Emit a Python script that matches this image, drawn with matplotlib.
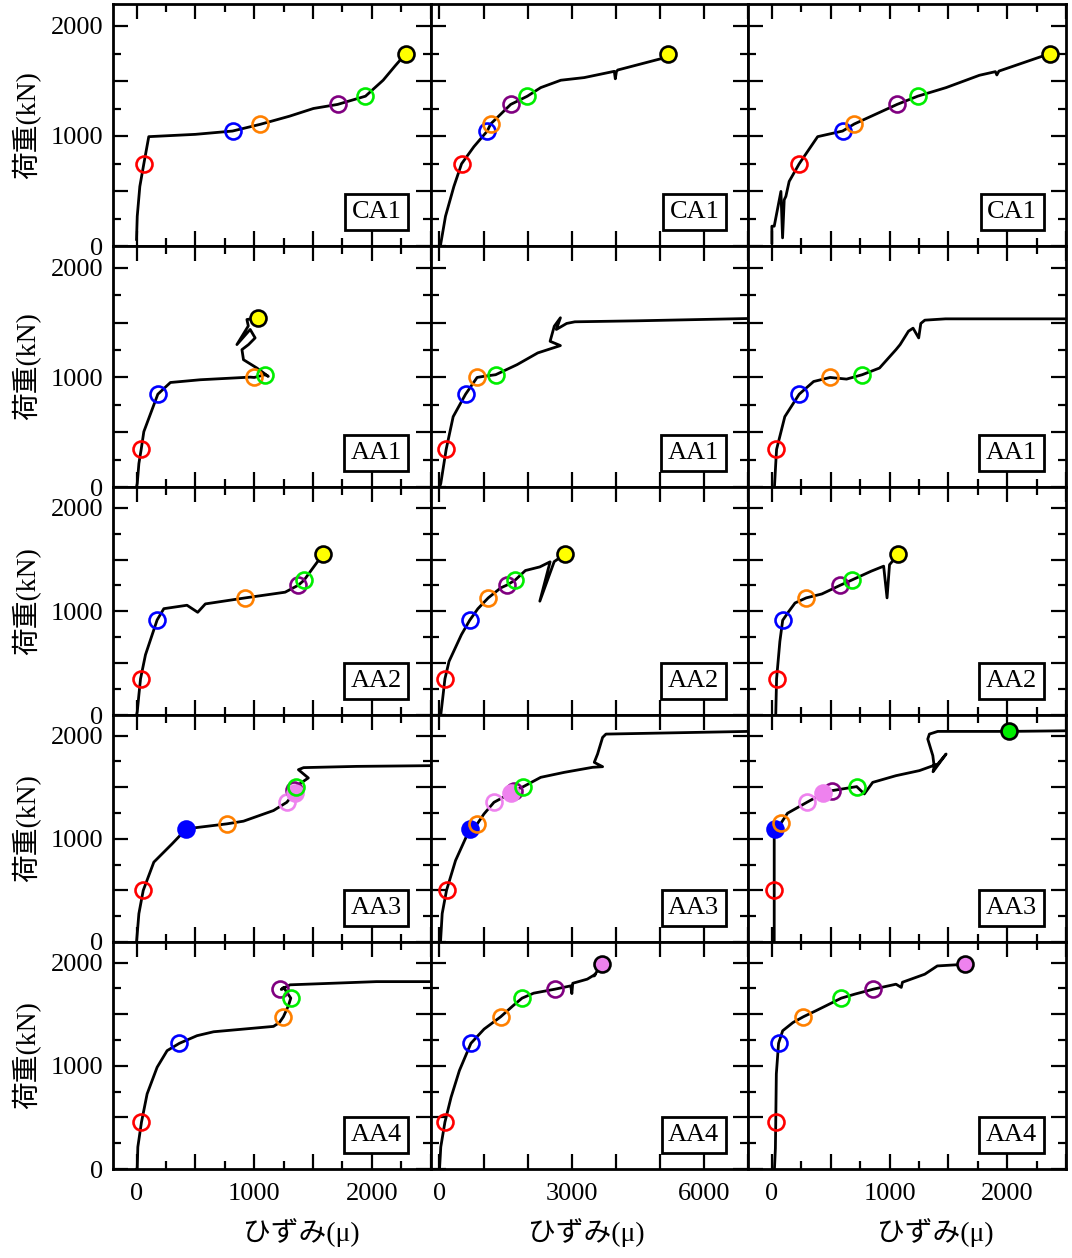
import matplotlib
matplotlib.use("Agg")
import matplotlib.pyplot as plt
from matplotlib.ticker import MultipleLocator, FuncFormatter

plt.rcParams['font.family'] = ['Liberation Serif', 'Noto Sans CJK JP']
plt.rcParams['mathtext.fontset'] = 'stix'

# ---- data (strain in micro, load in kN) ----
row_names = ['CA1', 'AA1', 'AA2', 'AA3', 'AA4']

ca1_l_x = [0, 6, 28, 62, 104, 500, 816, 1051, 1300, 1503, 1709, 1946, 2096, 2200, 2288]
ca1_l_y = [60, 270, 541, 747, 994, 1015, 1045, 1106, 1180, 1250, 1287, 1362, 1507, 1640, 1748]
ca1_l_pts = [('r', 62, 747), ('b', 816, 1045), ('o', 1051, 1106), ('p', 1709, 1287),
             ('g', 1946, 1362), ('yk', 2288, 1748)]

ca1_m_x = [20, 136, 326, 500, 780, 1083, 1159, 1614, 1992, 2295, 2750, 3280, 3962, 3985, 4010, 4040, 5023, 5174]
ca1_m_y = [0, 270, 541, 747, 903, 1045, 1109, 1287, 1362, 1440, 1507, 1531, 1588, 1520, 1585, 1600, 1703, 1748]
ca1_m_pts = [('r', 500, 747), ('b', 1083, 1045), ('o', 1159, 1109), ('p', 1614, 1287),
             ('g', 1992, 1362), ('yk', 5174, 1748)]

ca1_r_x = [0, 0, 20, 77, 91, 105, 119, 147, 232, 389, 601, 700, 1064, 1240, 1481, 1764, 1900, 1912, 1930, 2360]
ca1_r_y = [30, 180, 180, 496, 74, 420, 451, 587, 747, 994, 1045, 1109, 1287, 1362, 1440, 1552, 1585, 1555, 1590, 1748]
ca1_r_pts = [('r', 232, 747), ('b', 601, 1045), ('o', 700, 1109), ('p', 1064, 1287),
             ('g', 1240, 1362), ('yk', 2360, 1748)]

aa1_l_x = [0, 6, 20, 40, 62, 181, 288, 542, 966, 1000, 1093, 1120, 1023, 909, 896, 952, 1008, 966, 853, 950, 938, 1036]
aa1_l_y = [0, 31, 214, 346, 505, 847, 954, 979, 1003, 1000, 1025, 1010, 1086, 1162, 1254, 1300, 1361, 1438, 1300, 1470, 1529, 1545]
aa1_l_pts = [('r', 40, 346), ('b', 181, 847), ('o', 1000, 1000), ('g', 1093, 1025), ('yk', 1036, 1545)]

aa1_m_x = [0, 29, 151, 310, 591, 852, 1000, 1273, 1759, 2227, 2741, 2507, 2602, 2741, 2648, 2882, 3068, 4472, 7000]
aa1_m_y = [0, 31, 343, 642, 847, 1000, 1010, 1025, 1117, 1224, 1291, 1330, 1468, 1545, 1438, 1493, 1508, 1517, 1538]
aa1_m_pts = [('r', 151, 343), ('b', 591, 847), ('o', 852, 1000), ('g', 1273, 1025)]

aa1_r_x = [22, 33, 40, 110, 232, 355, 495, 635, 768, 915, 1055, 1090, 1161, 1200, 1248, 1266, 1300, 1476, 2500]
aa1_r_y = [0, 214, 343, 642, 847, 963, 1000, 985, 1025, 1086, 1254, 1300, 1422, 1450, 1361, 1493, 1523, 1535, 1535]
aa1_r_pts = [('r', 38, 343), ('b', 232, 847), ('o', 495, 1000), ('g', 768, 1025)]

aa2_l_x = [0, 6, 20, 34, 76, 175, 232, 429, 520, 585, 924, 1263, 1376, 1424, 1500, 1588]
aa2_l_y = [0, 30, 194, 349, 581, 917, 1026, 1059, 991, 1072, 1130, 1185, 1253, 1301, 1420, 1556]
aa2_l_pts = [('r', 34, 349), ('b', 175, 917), ('o', 924, 1130), ('p', 1376, 1253),
             ('g', 1424, 1301), ('yk', 1588, 1556)]

aa2_m_x = [29, 70, 123, 216, 497, 684, 871, 1105, 1386, 1525, 1713, 1947, 2274, 2507, 2274, 2600, 2834]
aa2_m_y = [0, 150, 349, 517, 775, 914, 1026, 1130, 1226, 1253, 1301, 1394, 1429, 1478, 1098, 1480, 1549]
aa2_m_pts = [('r', 123, 349), ('b', 684, 914), ('o', 1105, 1130), ('p', 1525, 1253),
             ('g', 1713, 1301), ('yk', 2834, 1549)]

aa2_r_x = [33, 36, 40, 68, 92, 145, 197, 292, 425, 583, 677, 845, 950, 979, 1000, 1073]
aa2_r_y = [0, 150, 349, 710, 914, 1001, 1081, 1130, 1168, 1253, 1301, 1388, 1436, 1130, 1450, 1549]
aa2_r_pts = [('r', 40, 349), ('b', 92, 914), ('o', 292, 1130), ('p', 583, 1253),
             ('g', 677, 1301), ('yk', 1073, 1549)]

aa3_l_x = [0, 6, 20, 57, 147, 302, 424, 768, 909, 1164, 1277, 1347, 1353, 1460, 1376, 1420, 1870, 2500]
aa3_l_y = [0, 81, 275, 500, 774, 951, 1097, 1145, 1171, 1274, 1354, 1451, 1506, 1590, 1670, 1690, 1702, 1709]
aa3_l_pts = [('r', 57, 500), ('bf', 424, 1097), ('o', 768, 1145), ('v', 1277, 1354),
             ('p', 1335, 1475), ('vf', 1345, 1445), ('g', 1353, 1506)]

aa3_m_x = [23, 61, 159, 364, 689, 856, 1008, 1235, 1614, 1689, 1902, 2295, 2826, 3470, 3697, 3508, 3583, 3697, 3773, 7000]
aa3_m_y = [0, 275, 500, 790, 1097, 1145, 1241, 1354, 1441, 1467, 1506, 1596, 1644, 1693, 1699, 1741, 1822, 1983, 2015, 2041]
aa3_m_pts = [('r', 159, 500), ('bf', 689, 1097), ('o', 856, 1145), ('v', 1235, 1354),
             ('p', 1689, 1467), ('vf', 1614, 1441), ('g', 1902, 1506)]

aa3_r_x = [20, 20, 20, 28, 77, 133, 298, 437, 511, 721, 786, 857, 1055, 1254, 1410, 1481, 1370, 1380, 1368, 1325, 1339, 1410, 2014, 2500]
aa3_r_y = [0, 500, 1015, 1097, 1151, 1248, 1354, 1441, 1467, 1506, 1435, 1547, 1612, 1661, 1725, 1822, 1650, 1700, 1806, 1967, 2015, 2041, 2041, 2047]
aa3_r_pts = [('r', 20, 500), ('bf', 28, 1097), ('o', 77, 1151), ('v', 298, 1354),
             ('p', 511, 1467), ('vf', 437, 1441), ('g', 721, 1506), ('gk', 2014, 2041)]

aa4_l_x = [0, 6, 11, 42, 90, 175, 260, 364, 514, 655, 1164, 1215, 1248, 1290, 1311, 1250, 1230, 1305, 2040, 2500]
aa4_l_y = [0, 4, 213, 454, 728, 986, 1147, 1218, 1292, 1330, 1382, 1420, 1475, 1580, 1656, 1760, 1740, 1785, 1816, 1816]
aa4_l_pts = [('r', 42, 454), ('b', 364, 1218), ('o', 1248, 1475), ('p', 1220, 1743), ('g', 1311, 1656)]

aa4_m_x = [1, 29, 123, 263, 451, 712, 1011, 1386, 1666, 1872, 2134, 2620, 2975, 3000, 3020, 3350, 3536, 3500, 3677]
aa4_m_y = [0, 213, 454, 696, 954, 1218, 1356, 1475, 1582, 1656, 1704, 1743, 1775, 1700, 1800, 1840, 1888, 1870, 1984]
aa4_m_pts = [('r', 123, 454), ('b', 712, 1218), ('o', 1386, 1475), ('g', 1872, 1656),
             ('p', 2620, 1743), ('vk', 3677, 1984)]

aa4_r_x = [22, 30, 33, 38, 57, 92, 180, 267, 373, 460, 590, 706, 863, 1055, 1100, 1110, 1300, 1406, 1640]
aa4_r_y = [0, 200, 454, 922, 1218, 1340, 1420, 1475, 1533, 1582, 1656, 1695, 1743, 1791, 1760, 1810, 1888, 1968, 1984]
aa4_r_pts = [('r', 33, 454), ('b', 57, 1218), ('o', 267, 1475), ('g', 590, 1656),
             ('p', 863, 1743), ('vk', 1640, 1984)]

panels = [
    [(ca1_l_x, ca1_l_y, ca1_l_pts), (ca1_m_x, ca1_m_y, ca1_m_pts), (ca1_r_x, ca1_r_y, ca1_r_pts)],
    [(aa1_l_x, aa1_l_y, aa1_l_pts), (aa1_m_x, aa1_m_y, aa1_m_pts), (aa1_r_x, aa1_r_y, aa1_r_pts)],
    [(aa2_l_x, aa2_l_y, aa2_l_pts), (aa2_m_x, aa2_m_y, aa2_m_pts), (aa2_r_x, aa2_r_y, aa2_r_pts)],
    [(aa3_l_x, aa3_l_y, aa3_l_pts), (aa3_m_x, aa3_m_y, aa3_m_pts), (aa3_r_x, aa3_r_y, aa3_r_pts)],
    [(aa4_l_x, aa4_l_y, aa4_l_pts), (aa4_m_x, aa4_m_y, aa4_m_pts), (aa4_r_x, aa4_r_y, aa4_r_pts)],
]

# marker styles: (face, edge)
styles = {
    'r': ('none', '#ff0000'), 'b': ('none', '#0000ff'), 'o': ('none', '#ff8000'),
    'p': ('none', '#800080'), 'g': ('none', '#00ee00'), 'v': ('none', '#ee82ee'),
    'bf': ('#0000ff', '#0000ff'), 'vf': ('#ee82ee', '#ee82ee'),
    'yk': ('#ffff00', 'black'), 'gk': ('#00ee00', 'black'), 'vk': ('#ee82ee', 'black'),
}

col_xlim = [(-200, 2500), (-200, 7000), (-200, 2500)]
xlabel_pos = [0.593, 0.49, 0.588]

fig = plt.figure(figsize=(10.72, 12.58), dpi=100)
gs = fig.add_gridspec(5, 3, left=113/1072, right=1066/1072, top=1-4/1258, bottom=1-1169/1258,
                      hspace=0, wspace=0, height_ratios=[242, 241, 228, 227, 227])

lab_fmt = FuncFormatter(lambda v, p: f"{int(round(v))}" if abs(v) % 1000 < 1e-6 else "")
mid_fmt = FuncFormatter(lambda v, p: f"{int(round(v))}" if abs(v) % 3000 < 1e-6 else "")

for i in range(5):
    for j in range(3):
        ax = fig.add_subplot(gs[i, j])
        xs, ys, pts = panels[i][j]
        ax.plot(xs, ys, color='black', lw=2.0, zorder=2)
        for key, px, py in pts:
            fc, ec = styles[key]
            ax.plot(px, py, 'o', ms=11.5, mfc=fc, mec=ec, mew=1.9, zorder=3, clip_on=False)

        ax.set_xlim(*col_xlim[j])
        ax.set_ylim(0, 2200)
        if j == 1:
            ax.xaxis.set_major_locator(MultipleLocator(1000))
            ax.xaxis.set_major_formatter(mid_fmt)
        else:
            ax.xaxis.set_major_locator(MultipleLocator(500))
            ax.xaxis.set_minor_locator(MultipleLocator(250))
            ax.xaxis.set_major_formatter(lab_fmt)
        ax.yaxis.set_major_locator(MultipleLocator(500))
        ax.yaxis.set_minor_locator(MultipleLocator(250))
        ax.yaxis.set_major_formatter(lab_fmt)

        ax.tick_params(which='both', direction='in', top=True, right=True, width=1.6, labelsize=19)
        ax.tick_params(which='major', length=10.5)
        ax.tick_params(which='minor', length=5.5)
        ax.tick_params(axis='x', pad=10)
        ax.tick_params(axis='y', pad=7)
        for s in ax.spines.values():
            s.set_linewidth(2.0)

        if j != 0:
            ax.tick_params(axis='y', labelleft=False)
        else:
            ax.set_ylabel('荷重(kN)', fontsize=20)
            ax.yaxis.set_label_coords(-0.225, 0.5)
        if i != 4:
            ax.tick_params(axis='x', labelbottom=False)
        else:
            ax.set_xlabel('ひずみ(μ)', fontsize=20)
            ax.xaxis.set_label_coords(xlabel_pos[j], -0.215)

        ax.annotate(row_names[i], xy=(1, 0), xycoords='axes fraction',
                    xytext=(-29, 23), textcoords='offset pixels', ha='right', va='bottom',
                    fontsize=19, zorder=4,
                    bbox=dict(boxstyle='square,pad=0.25', fc='white', ec='black', lw=2.0))

fig.savefig('out.png', dpi=100)
